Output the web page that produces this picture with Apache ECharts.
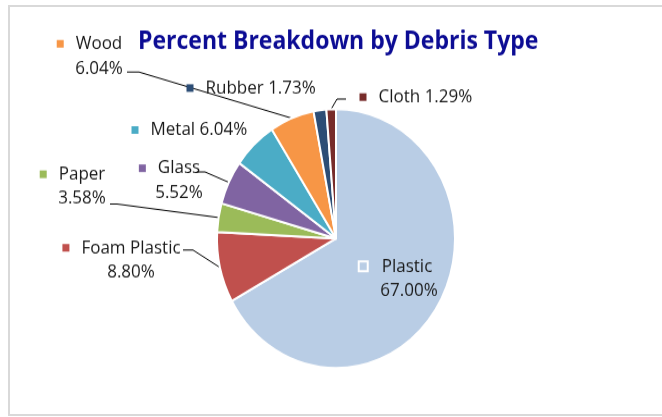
<!DOCTYPE html>
<html>
<head>
<meta charset="utf-8">
<script src="https://cdn.jsdelivr.net/npm/echarts@6/dist/echarts.min.js"></script>
<style>
  html, body { margin: 0; padding: 0; background: #fff; overflow: hidden; }
  #frame { position: absolute; left: 8px; top: 5px; width: 700px; height: 407px; border: 2px solid #d9d9d9; }
  /* the reference is stretched vertically, so the chart is too */
  #main { position: absolute; left: 0; top: 0; width: 662px; height: 383px; transform: scaleY(1.088); transform-origin: 0 0; }
</style>
</head>
<body>
<div id="frame"></div>
<div id="main"></div>
<script>
// data
var categories = ['Plastic', 'Foam Plastic', 'Paper', 'Glass', 'Metal', 'Wood', 'Rubber', 'Cloth'];
var percents = [67.00, 8.80, 3.58, 5.52, 6.04, 6.04, 1.73, 1.29];
var colors = ['#B9CDE5', '#C0504D', '#9BBB59', '#8064A2', '#4BACC6', '#F79646', '#2C4D75', '#772C2A'];

// label placement: [x, y, align, two lines?, leader line points (label side)]
var labelPlaces = [
  [409, 256, 'center', true, null],
  [131, 239, 'center', true, [[193, 229.8], [183, 229.8]]],
  [82, 171.4, 'center', true, [[117, 187.5], [110, 187.5]]],
  [179, 165.9, 'center', true, [[205, 158], [197, 158]]],
  [131.5, 119.5, 'left', false, null],
  [99, 51.5, 'center', true, [[139, 66.2], [127, 66.2]]],
  [186.5, 80.9, 'left', false, null],
  [359.5, 89.2, 'left', false, [[337, 91], [346, 91]]]
];

var font = 'Open Sans';
var rich = {
  g: { width: 12 },
  p: { width: 19 },
  pp: { width: 26 },
  g0: { width: 15 }
};
colors.forEach(function (c, i) {
  rich['m' + i] = { width: 7, height: 7, backgroundColor: c };
});
rich.m0 = { width: 7, height: 7, backgroundColor: colors[0], borderColor: '#fff', borderWidth: 2 };

var pieData = categories.map(function (name, i) {
  var item = { name: name, value: percents[i], itemStyle: { color: colors[i] } };
  if (i === 0) item.label = { position: 'inside' };
  if (!labelPlaces[i][4]) item.labelLine = { show: false };
  return item;
});

var chart = echarts.init(document.getElementById('main'), null, { renderer: 'canvas' });
var option = {
  animation: false,
  title: {
    text: 'Percent Breakdown by Debris Type',
    left: 138,
    top: 27,
    padding: 0,
    textStyle: { fontFamily: font, fontWeight: 'bold', fontSize: 23, color: '#0C0C94' }
  },
  series: [{
    type: 'pie',
    center: [336, 219.2],
    radius: 119,
    startAngle: 90,
    clockwise: true,
    avoidLabelOverlap: false,
    silent: true,
    itemStyle: { borderColor: '#fff', borderWidth: 2 },
    label: {
      show: true,
      position: 'outside',
      fontFamily: font,
      fontSize: 17,
      lineHeight: 22.5,
      color: '#1a1a1a',
      rich: rich,
      formatter: function (p) {
        var i = p.dataIndex;
        var val = percents[i].toFixed(2) + '%';
        var gap = i === 0 ? '{g0|}' : '{g|}';
        if (labelPlaces[i][3]) {
          return '{m' + i + '|}' + gap + p.name + (i === 0 ? '{pp|}' : '{p|}') + '\n' + val;
        }
        return '{m' + i + '|}' + gap + p.name + ' ' + val;
      }
    },
    labelLine: { show: true, lineStyle: { color: '#000', width: 1 } },
    labelLayout: function (p) {
      var L = labelPlaces[p.dataIndex];
      var out = { x: L[0], y: L[1], align: L[2], verticalAlign: 'middle' };
      if (L[4] && p.labelLinePoints) {
        out.labelLinePoints = [p.labelLinePoints[0]].concat(L[4]);
      }
      return out;
    },
    data: pieData
  }]
};
chart.setOption(option);
</script>
</body>
</html>
